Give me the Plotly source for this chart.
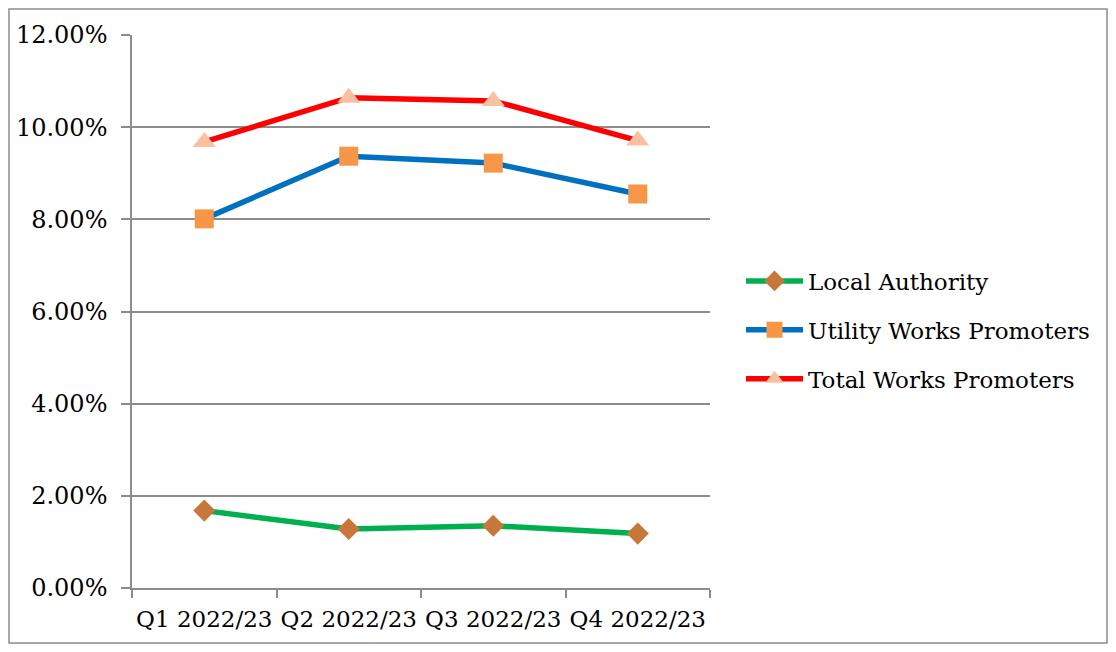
import plotly.graph_objects as go

categories = ["Q1 2022/23", "Q2 2022/23", "Q3 2022/23", "Q4 2022/23"]
local_authority = [0.0168, 0.0128, 0.0135, 0.0118]
utility_works = [0.0801, 0.0937, 0.0922, 0.0855]
total_works = [0.0968, 0.1064, 0.1057, 0.0971]

series = [
    ("Local Authority", local_authority, "#00B050", "diamond", "#C8773A", 17),
    ("Utility Works Promoters", utility_works, "#0070C0", "square", "#F79646", 19),
    ("Total Works Promoters", total_works, "#FF0000", "triangle-up", "#FAC0A0", 20),
]

fig = go.Figure()
for i, (name, vals, lc, sym, mc, ms) in enumerate(series):
    fig.add_trace(go.Scatter(
        x=categories, y=vals, name=name, mode="lines+markers", legendgroup=f"g{i}",
        line=dict(color=lc, width=5.5),
        marker=dict(symbol=sym, color=mc, size=ms, line=dict(width=0)),
    ))

OFF = 8  # browser body margin
W, H = 1100, 636
L, R, T, B = 132 - OFF, 710 - OFF, 35 - OFF, 588 - OFF
pw, ph = R - L, B - T
def px(x): return (x - OFF - L) / pw
def py(y): return (B - (y - OFF)) / ph

fig.update_layout(
    width=W, height=H,
    margin=dict(l=L, r=W - R, t=T, b=H - B, autoexpand=False),
    paper_bgcolor="white", plot_bgcolor="white",
    font=dict(family="DejaVu Serif", size=22, color="black"),
    showlegend=True,
    legend=dict(x=px(741), y=py(330), xanchor="left", yanchor="middle",
                font=dict(size=23), tracegroupgap=16, itemsizing="trace", itemwidth=57,
                bgcolor="rgba(0,0,0,0)"),
    shapes=[dict(type="rect", xref="paper", yref="paper",
                 x0=px(9), x1=px(1107), y0=py(643), y1=py(9),
                 line=dict(color="#8C8C8C", width=1.5), fillcolor="rgba(0,0,0,0)", layer="below")],
)
fig.update_xaxes(
    type="category", range=[-0.5, 3.5], showgrid=False,
    showline=True, linecolor="#8C8C8C", linewidth=1.5,
    ticks="outside", tickson="boundaries", ticklen=8, tickcolor="#8C8C8C", tickwidth=1.5,
    tickfont=dict(size=23), tickangle=0, ticklabelstandoff=10, fixedrange=True, automargin=False,
)
fig.update_yaxes(
    range=[0, 0.12], dtick=0.02, tickformat=".2%",
    showgrid=True, gridcolor="#8C8C8C", gridwidth=1.5,
    showline=True, linecolor="#8C8C8C", linewidth=1.5,
    ticks="outside", ticklen=9, tickcolor="#8C8C8C", tickwidth=1.5,
    tickfont=dict(size=24), ticklabelstandoff=9, zeroline=False, automargin=False,
)
fig.write_html("out.html")
